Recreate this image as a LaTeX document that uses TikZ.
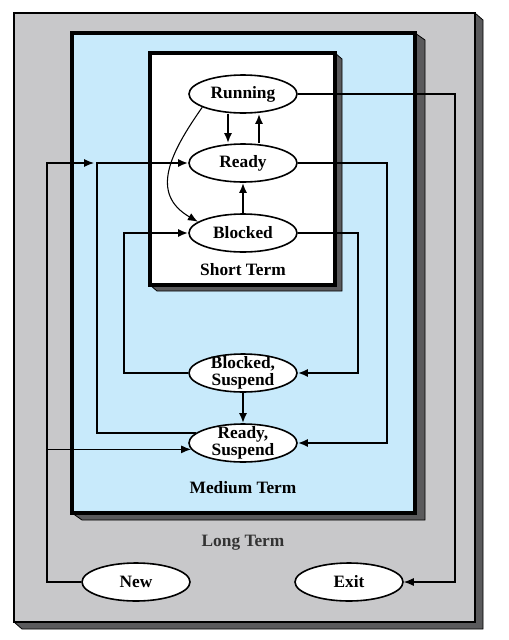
\documentclass[tikz,border=0pt]{standalone}
\usepackage{fontspec}
\setmainfont{Liberation Serif}
\usetikzlibrary{shapes.geometric,arrows.meta,calc}
\definecolor{longgray}{RGB}{200,200,202}
\definecolor{medblue}{RGB}{200,234,251}
\definecolor{shade}{RGB}{90,90,92}
% box with drop shadow: x1,y1,x2,y2,dx,dy,fill,border
\newcommand\panel[8]{%
\draw[line width=.6pt,fill=shade] (#3,#2)--(#3+#5,#2+#6)--(#3+#5,#4+#6)--(#1+#5,#4+#6)--(#1,#4)--cycle;
\draw[line width=#8,fill=#7] (#1,#2) rectangle (#3,#4);}
\begin{document}
\begin{tikzpicture}[x=0.75pt,y=-0.75pt,>={Latex[length=7.5pt,width=6pt]},
st/.style={draw,ellipse,fill=white,line width=1.2pt,minimum width=81pt,minimum height=28.5pt,inner sep=0pt,align=center,font=\bfseries\fontsize{13}{12.5}\selectfont},
two/.style={inner ysep=-3pt},
term/.style={font=\bfseries\fontsize{13}{13}\selectfont},
thk/.style={line width=2pt},
thn/.style={line width=0.8pt}]
\useasboundingbox (0,0) rectangle (508,640);
% nested scheduling levels
\panel{14}{13}{475}{622}{8}{7}{longgray}{2pt}
\panel{72}{33}{415}{513}{10}{7}{medblue}{3pt}
\panel{150}{53}{335}{285}{7}{6}{white}{3pt}
\node[term] (sh) at (243,270) {Short Term};
\node[term] (md) at (243,488) {Medium Term};
\node[term,black!80] (lg) at (243,543) {Long Term};
% states
\node[st] (run) at (243,94) {Running};
\node[st] (rdy) at (243,163) {Ready};
\node[st] (blk) at (243,233) {Blocked};
\node[st,two] (bsus) at (243,373) {Blocked,\\Suspend};
\node[st,two] (rsus) at (243,443) {Ready,\\Suspend};
\node[st] (new) at (136,582) {New};
\node[st] (exit) at (349,582) {Exit};
\coordinate (rx) at (455,94);
\coordinate (rr) at (387,163);
\coordinate (br) at (358,233);
\coordinate (bl) at (124,233);
\coordinate (rl) at (97,163);
\coordinate (nl) at (47,163);
\coordinate (na) at (94,163);
% short term
\draw[thk,->] ($(run.south)+(-15,0)$) -- ($(rdy.north)+(-15,0)$);
\draw[thk,->] ($(rdy.north)+(16,0)$) -- ($(run.south)+(16,0)$);
\draw[thk,->] (blk) -- (rdy);
\draw[thn,->] (run.198) to[out=235,in=150,looseness=1.25] (blk.166);
% medium term
\draw[thk,->] (rdy) -- (rr) |- (rsus);
\draw[thk,->] (blk) -- (br) |- (bsus);
\draw[thk,->] (bsus) -| (bl) -- (blk);
\draw[thk,->] (rsus.168) -| (rl) -- (rdy);
\draw[thk,->] (bsus) -- (rsus);
% long term
\draw[thn,->] (new) -| (nl) -- (na);
\draw[thn,->] (new -| nl) |- (rsus.187);
\draw[thn,->] (run) -- (rx) |- (exit);
\end{tikzpicture}
\end{document}
